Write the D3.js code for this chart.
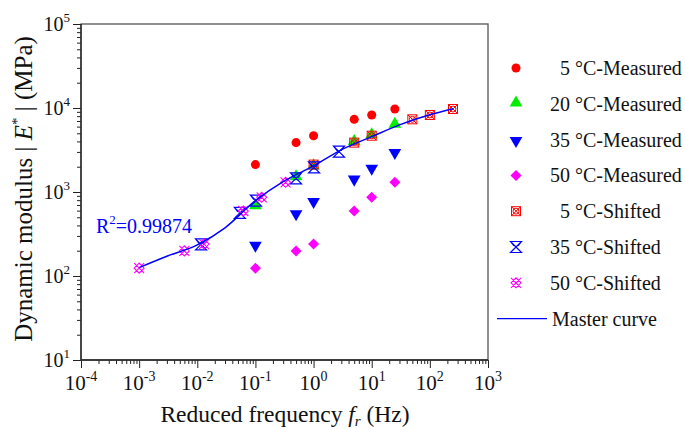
<!DOCTYPE html>
<html>
<head>
<meta charset="utf-8">
<script src="https://cdn.jsdelivr.net/npm/d3@7"></script>
<style>
  html, body { margin: 0; padding: 0; background: #fff; }
  svg { display: block; font-family: "Liberation Serif", "Times New Roman", serif; }
</style>
</head>
<body>
<svg id="chart" width="685" height="429"></svg>
<script>
// Measured loading frequencies (Hz)
const freqMeasured = [0.1, 0.5, 1, 5, 10, 25];

// |E*| (MPa) measured at each temperature
const e5Measured  = [2120, 3870, 4680, 7330, 8260, 9720];
const e20Measured = [670, 1480, 2000, 3890, 4680, 6280];
const e35Measured = [238, 565, 790, 1456, 1968, 3020];
const e50Measured = [124, 199, 240, 594, 865, 1304];

// Reduced frequencies after time–temperature shifting (reference 20 °C)
const freq5Shifted  = [1, 5, 10, 50, 100, 250];
const freq35Shifted = [0.0116, 0.054, 0.102, 0.50, 1.02, 2.74];
const freq50Shifted = [0.001, 0.006, 0.0131, 0.062, 0.128, 0.33];

// Master curve (reduced frequency, |E*|)
const masterFreq = [0.001, 0.003, 0.01, 0.03, 0.1, 0.3, 1, 3, 10, 30, 100, 250];
const masterE    = [126, 172, 235, 375, 790, 1330, 2050, 3180, 4560, 6300, 8300, 9800];

const rSquared = "0.99874";

const xMajor = [1e-4, 1e-3, 1e-2, 1e-1, 1, 1e1, 1e2, 1e3];
const xExp   = ["-4", "-3", "-2", "-1", "0", "1", "2", "3"];
const yMajor = [1e1, 1e2, 1e3, 1e4, 1e5];
const yExp   = ["1", "2", "3", "4", "5"];

const svg = d3.select("#chart");
const L = 81, R = 488, T = 24, B = 360;

const x = d3.scaleLog().domain([1e-4, 1e3]).range([L, R]);
const y = d3.scaleLog().domain([1e1, 1e5]).range([B, T]);

const AX = "#222";

// minor ticks: 2..9 within each decade
const minor = (lo, hi) => {
  const out = [];
  for (let d = lo; d < hi; d *= 10) for (let k = 2; k <= 9; k++) out.push(d * k);
  return out;
};

const gxMinor = svg.append("g").attr("transform", `translate(0,${B})`)
  .call(d3.axisBottom(x).tickValues(minor(1e-4, 1e3)).tickSize(4).tickFormat(""));
const gxMajor = svg.append("g").attr("transform", `translate(0,${B})`)
  .call(d3.axisBottom(x).tickValues(xMajor).tickSize(8).tickFormat(""));
const gyMinor = svg.append("g").attr("transform", `translate(${L},0)`)
  .call(d3.axisLeft(y).tickValues(minor(1e1, 1e5)).tickSize(4).tickFormat(""));
const gyMajor = svg.append("g").attr("transform", `translate(${L},0)`)
  .call(d3.axisLeft(y).tickValues(yMajor).tickSize(8).tickFormat(""));
[gxMinor, gxMajor, gyMinor, gyMajor].forEach(g => {
  g.select(".domain").remove();
  g.selectAll(".tick line").attr("stroke", AX).attr("stroke-width", 1);
});

// frame
svg.append("rect").attr("x", L).attr("y", T).attr("width", R - L).attr("height", B - T)
  .attr("fill", "none").attr("stroke", "#555").attr("stroke-width", 1.3);
svg.append("path").attr("d", `M${L},${T}V${B}H${R}`)
  .attr("fill", "none").attr("stroke", AX).attr("stroke-width", 1.3);

// tick labels with superscript exponents
xMajor.forEach((v, i) => {
  const t = svg.append("text").attr("x", x(v)).attr("y", 390)
    .attr("text-anchor", "middle").attr("font-size", 21).attr("fill", "#111");
  t.append("tspan").text("10");
  t.append("tspan").attr("dy", -9).attr("font-size", 14).text(xExp[i]);
});
yMajor.forEach((v, i) => {
  const t = svg.append("text").attr("x", 70).attr("y", y(v) + 7)
    .attr("text-anchor", "end").attr("font-size", 20).attr("fill", "#111");
  t.append("tspan").text("10");
  t.append("tspan").attr("dy", -9).attr("font-size", 13).text(yExp[i]);
});

// axis titles
const xt = svg.append("text").attr("x", 285).attr("y", 422)
  .attr("text-anchor", "middle").attr("font-size", 23.5).attr("fill", "#111");
xt.append("tspan").text("Reduced frequency ");
xt.append("tspan").attr("font-style", "italic").text("f");
xt.append("tspan").attr("font-style", "italic").attr("font-size", 15).attr("dy", 4).text("r");
xt.append("tspan").attr("dy", -4).text(" (Hz)");

const yt = svg.append("text").attr("transform", "translate(32,189) rotate(-90)")
  .attr("text-anchor", "middle").attr("font-size", 25).attr("fill", "#111");
yt.append("tspan").text("Dynamic modulus | ");
yt.append("tspan").attr("font-style", "italic").text("E");
yt.append("tspan").attr("font-size", 15).attr("dy", -10).text("*");
yt.append("tspan").attr("dy", 10).text(" | (MPa)");

// marker shapes
const RED = "#ff0000", GREEN = "#00ee00", BLUE = "#0000ff", MAG = "#ff00ff";
const symCircle = d3.symbol().type(d3.symbolCircle).size(64);
const symTriUp = d3.symbol().type(d3.symbolTriangle).size(70);
function drawMarker(g, kind, color) {
  if (kind === "circle") g.append("path").attr("d", symCircle()).attr("fill", color);
  else if (kind === "triUp") g.append("path").attr("d", symTriUp()).attr("fill", color).attr("transform", "translate(0,-1)");
  else if (kind === "triDown") g.append("path").attr("d", symTriUp()).attr("fill", color).attr("transform", "translate(0,1) rotate(180)");
  else if (kind === "diamond") g.append("path").attr("d", "M0,-5.5L5.5,0L0,5.5L-5.5,0Z").attr("fill", color);
  else if (kind === "boxX") {
    g.append("rect").attr("x", -4.5).attr("y", -4.5).attr("width", 9).attr("height", 9)
      .attr("fill", "none").attr("stroke", color).attr("stroke-width", 1);
    g.append("path").attr("d", "M-4.5,-4.5L4.5,4.5M-4.5,4.5L4.5,-4.5")
      .attr("stroke", color).attr("stroke-width", 1);
    g.append("circle").attr("r", 3).attr("fill", "none").attr("stroke", color).attr("stroke-width", 1);
  } else if (kind === "hourglass") {
    g.append("path").attr("d", "M-5.5,-5.5L5.5,-5.5L-5.5,5.5L5.5,5.5Z M-5.5,-5.5L-2,-1 M5.5,-5.5L2,-1")
      .attr("fill", "none").attr("stroke", color).attr("stroke-width", 1.2);
  } else if (kind === "lattice") {
    g.append("path").attr("d",
      "M-5,-5L5,5M-5,5L5,-5M-5,0L0,-5L5,0L0,5Z")
      .attr("fill", "none").attr("stroke", color).attr("stroke-width", 1.1);
  }
}

function plotSeries(fs, es, kind, color) {
  const g = svg.append("g");
  fs.forEach((f, i) => {
    const m = g.append("g").attr("transform", `translate(${x(f)},${y(es[i])})`);
    drawMarker(m, kind, color);
  });
}

// measured data
plotSeries(freqMeasured, e5Measured, "circle", RED);
plotSeries(freqMeasured, e35Measured, "triDown", BLUE);
plotSeries(freqMeasured, e50Measured, "diamond", MAG);
plotSeries(freqMeasured, e20Measured, "triUp", GREEN);

// shifted data
plotSeries(freq5Shifted, e5Measured, "boxX", RED);
plotSeries(freq35Shifted, e35Measured, "hourglass", BLUE);
plotSeries(freq50Shifted, e50Measured, "lattice", MAG);

// master curve
const line = d3.line().x(d => x(d[0])).y(d => y(d[1])).curve(d3.curveMonotoneX);
svg.append("path").datum(masterFreq.map((f, i) => [f, masterE[i]]))
  .attr("d", line).attr("fill", "none").attr("stroke", BLUE).attr("stroke-width", 1.5);

// R² annotation
const rt = svg.append("text").attr("x", 96).attr("y", 233).attr("font-size", 20).attr("fill", BLUE);
rt.append("tspan").text("R");
rt.append("tspan").attr("dy", -9).attr("font-size", 13).text("2");
rt.append("tspan").attr("dy", 9).text("=" + rSquared);

// legend
const legendLabels = ["5 °C-Measured", "20 °C-Measured", "35 °C-Measured", "50 °C-Measured",
  "5 °C-Shifted", "35 °C-Shifted", "50 °C-Shifted", "Master curve"];
const legendKinds = ["circle", "triUp", "triDown", "diamond", "boxX", "hourglass", "lattice", "line"];
const legendColors = [RED, GREEN, BLUE, MAG, RED, BLUE, MAG, BLUE];
legendLabels.forEach((lab, i) => {
  const cy = 68 + i * 35.8;
  const g = svg.append("g").attr("transform", `translate(516,${cy})`);
  if (legendKinds[i] === "line") {
    svg.append("line").attr("x1", 497).attr("x2", 547).attr("y1", cy).attr("y2", cy)
      .attr("stroke", BLUE).attr("stroke-width", 1.3);
    svg.append("text").attr("x", 552).attr("y", cy + 7).attr("font-size", 20).attr("fill", "#111").text(lab);
  } else {
    drawMarker(g, legendKinds[i], legendColors[i]);
    const indent = /^\d /.test(lab) ? 10 : 0;
    svg.append("text").attr("x", 550 + indent).attr("y", cy + 7).attr("font-size", 20)
      .attr("fill", "#111").text(lab);
  }
});
</script>
</body>
</html>
